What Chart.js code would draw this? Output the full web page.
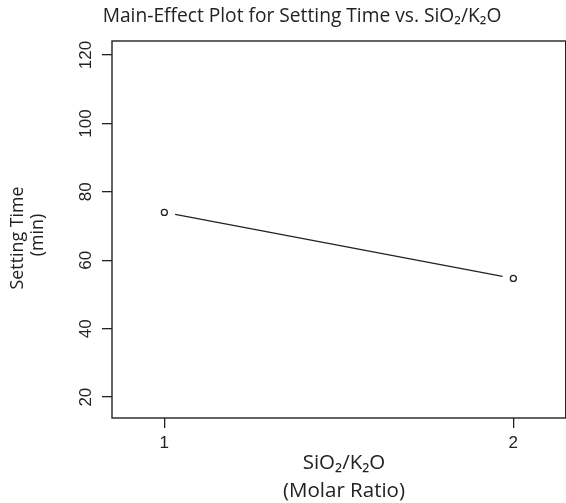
<!DOCTYPE html>
<html>
<head>
<meta charset="utf-8">
<script src="https://cdn.jsdelivr.net/npm/chart.js@4.4.0/dist/chart.umd.min.js"></script>
<style>
  html, body { margin: 0; padding: 0; background: #fff; overflow: hidden; }
  #wrap { width: 566px; height: 503px; overflow: hidden; }
</style>
</head>
<body>
<div id="wrap"><canvas id="chart" width="570" height="503"></canvas></div>
<script>
// data
var levels = [1, 2];              // SiO2/K2O molar ratio
var settingTime = [74.0, 54.7];   // mean setting time (min)
var xTicks = [1, 2];
var yTicks = [20, 40, 60, 80, 100, 120];

var titleText = "Main-Effect Plot for Setting Time vs. SiO\u2082/K\u2082O";
var xTitle1 = "SiO\u2082/K\u2082O";
var xTitle2 = "(Molar Ratio)";
var yTitle1 = "Setting Time";
var yTitle2 = "(min)";

var ink = "#222";
var labelFont = "'Open Sans', 'Noto Sans', sans-serif";
var tickFont = "17px 'Liberation Sans', Arial, sans-serif";

// find font size so the text is about the given width
function fitFont(ctx, text, width, family)
{
	ctx.font = "20px " + family;
	var w = ctx.measureText(text).width;
	return Math.round(20 * width / w * 10) / 10;
}

var points = [];
for(let i=0;i<levels.length;i++)
{
	points.push({x: levels[i], y: settingTime[i]});
}

var boxAndText = {
	id: "boxAndText",
	beforeDatasetsDraw: function(chart){
		var ctx = chart.ctx;
		var xs = chart.scales.x, ys = chart.scales.y;
		// joining segment, stopped short of the circles
		ctx.save();
		ctx.strokeStyle = ink;
		ctx.lineWidth = 1.3;
		for(let i=0;i<points.length-1;i++)
		{
			var x1 = xs.getPixelForValue(points[i].x), y1 = ys.getPixelForValue(points[i].y);
			var x2 = xs.getPixelForValue(points[i+1].x), y2 = ys.getPixelForValue(points[i+1].y);
			var len = Math.hypot(x2-x1, y2-y1), gap = 11;
			var ux = (x2-x1)/len, uy = (y2-y1)/len;
			ctx.beginPath();
			ctx.moveTo(x1 + ux*gap, y1 + uy*gap);
			ctx.lineTo(x2 - ux*gap, y2 - uy*gap);
			ctx.stroke();
		}
		ctx.restore();
	},
	afterDraw: function(chart){
		var ctx = chart.ctx;
		var a = chart.chartArea;
		var xs = chart.scales.x, ys = chart.scales.y;
		ctx.save();
		// box
		ctx.strokeStyle = ink;
		ctx.lineWidth = 1.4;
		ctx.strokeRect(a.left, a.top, a.right - a.left, a.bottom - a.top);

		ctx.fillStyle = ink;
		ctx.textAlign = "center";
		ctx.textBaseline = "middle";

		// tick labels
		ctx.font = tickFont;
		xs.ticks.forEach(function(t){
			ctx.fillText(String(t.value), xs.getPixelForValue(t.value), 443);
		});
		ys.ticks.forEach(function(t){
			ctx.save();
			ctx.translate(86, ys.getPixelForValue(t.value));
			ctx.rotate(-Math.PI/2);
			ctx.font = tickFont;
			ctx.fillText(String(t.value), 0, 0);
			ctx.restore();
		});

		// title
		var fs = fitFont(ctx, titleText, 399, labelFont);
		ctx.font = fs + "px " + labelFont;
		ctx.fillText(titleText, 302, 17);

		// x title
		fs = fitFont(ctx, xTitle2, 122, labelFont);
		ctx.font = fs + "px " + labelFont;
		ctx.fillText(xTitle1, 344, 463);
		ctx.fillText(xTitle2, 344, 491);

		// y title
		fs = fitFont(ctx, yTitle1, 103, labelFont);
		ctx.font = fs + "px " + labelFont;
		ctx.save();
		ctx.translate(18, 238);
		ctx.rotate(-Math.PI/2);
		ctx.fillText(yTitle1, 0, 0);
		ctx.restore();
		ctx.save();
		ctx.translate(38, 235);
		ctx.rotate(-Math.PI/2);
		ctx.fillText(yTitle2, 0, 0);
		ctx.restore();
		ctx.restore();
	}
};

window.onload = function(){
	var ctx = document.getElementById("chart").getContext("2d");
	var mychart = new Chart(ctx,
	{
		type: "scatter",
		data: {
			datasets: [{
				data: points,
				showLine: false,
				pointRadius: 3,
				pointHoverRadius: 3,
				pointBackgroundColor: "#fff",
				pointBorderColor: ink,
				pointBorderWidth: 1.3
			}]
		},
		options: {
			responsive: false,
			animation: false,
			events: [],
			layout: { padding: { top: 41, right: 0, left: 0, bottom: 0 } },
			plugins: {
				legend: { display: false },
				title: { display: false },
				tooltip: { enabled: false }
			},
			scales: {
				x: {
					type: "linear",
					min: 0.85,
					max: 2.15,
					afterBuildTicks: function(s){ s.ticks = xTicks.map(function(v){ return {value: v}; }); },
					afterFit: function(s){ s.height = 85; },
					ticks: { display: false },
					border: { display: false },
					grid: { drawOnChartArea: false, drawTicks: true, tickLength: 10, color: ink, lineWidth: 1.3 }
				},
				y: {
					type: "linear",
					min: 13.9,
					max: 124.1,
					afterBuildTicks: function(s){ s.ticks = yTicks.map(function(v){ return {value: v}; }); },
					afterFit: function(s){ s.width = 112; },
					ticks: { display: false },
					border: { display: false },
					grid: { drawOnChartArea: false, drawTicks: true, tickLength: 10, color: ink, lineWidth: 1.3 }
				}
			}
		},
		plugins: [boxAndText]
	});
}
</script>
</body>
</html>
